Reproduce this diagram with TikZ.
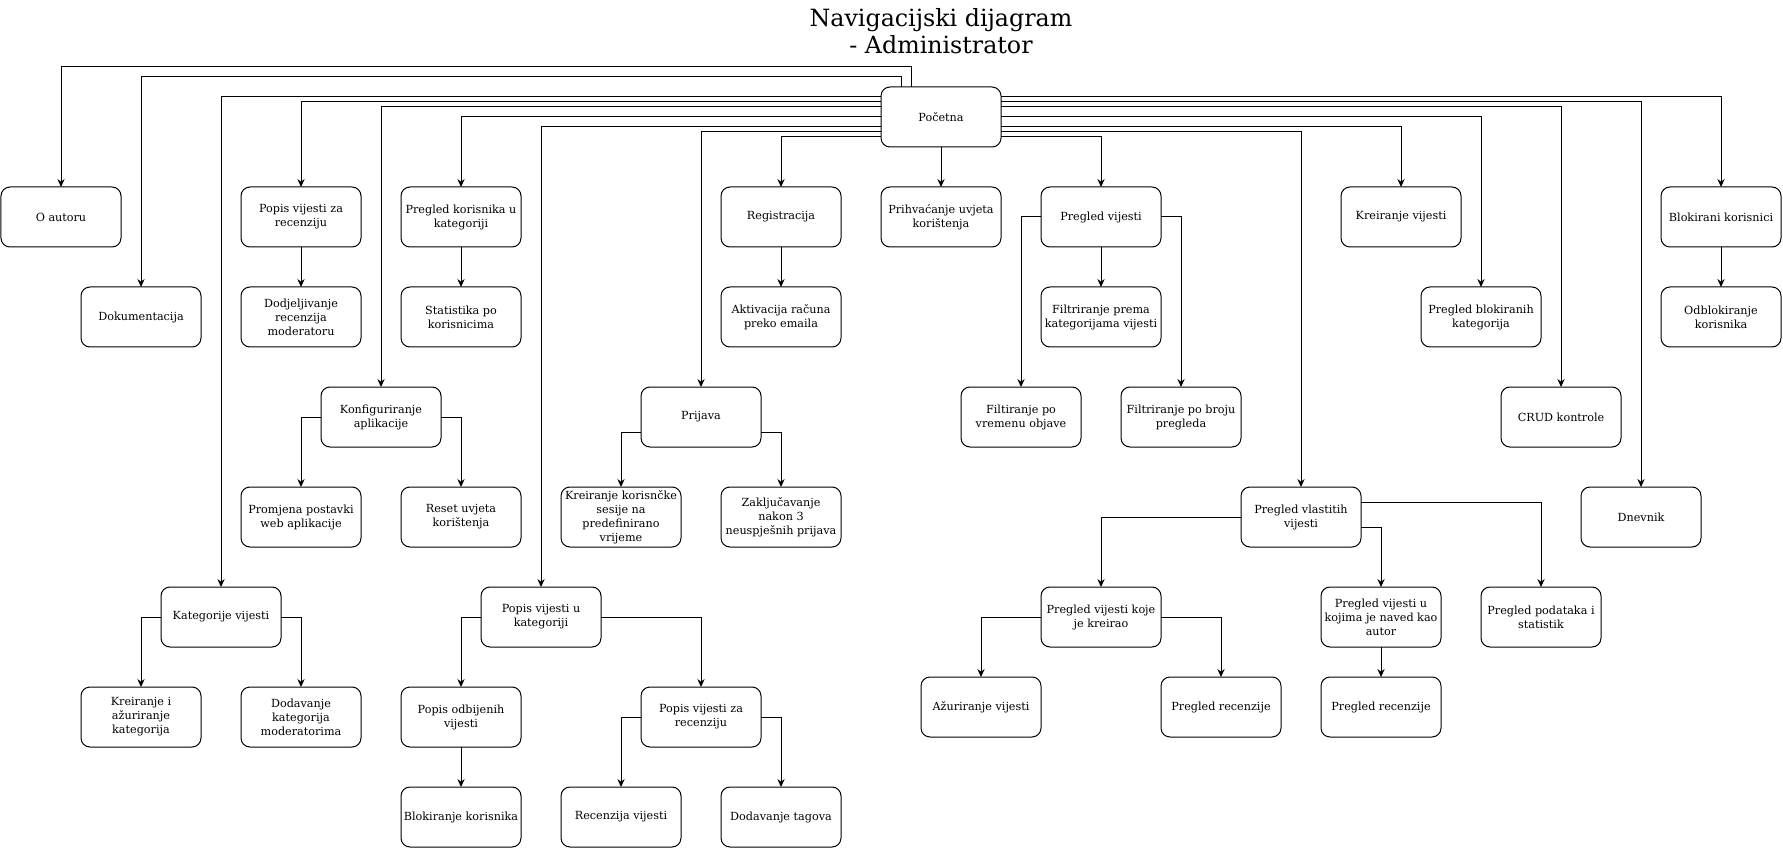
\documentclass[tikz,border=0pt]{standalone}
\usepackage{fontspec}
\setmainfont{DejaVu Serif}
\usepackage{tikz}
\usetikzlibrary{positioning,calc,arrows.meta}

\begin{document}
\begin{tikzpicture}[
	x=0.75pt, y=-0.75pt,
	box/.style={
		draw, rectangle, rounded corners=6.75pt, align=center,
		minimum width=90pt, minimum height=45pt, inner sep=1pt, outer sep=0pt,
		line width=0.75pt, font=\fontsize{8.4}{10.5}\selectfont
	},
	naslov/.style={align=center, font=\fontsize{17.8}{20.5}\selectfont},
	arr/.style={-{Stealth[length=6pt,width=5.5pt,inset=2pt]}, line width=0.75pt}
	]
	\useasboundingbox (-1,-1) rectangle (1782,847);
	
	%==================== Naslov ====================
	\node[naslov] (naslov) at (940,30) {Navigacijski dijagram\\- Administrator};
	
	%==================== Početna ====================
	\node[box] (pocetna) at (940,116) {Početna};
	
	%==================== Prvi red ====================
	\node[box] (oautoru) at (60,216) {O autoru};
	\node[box] (popisrec) at (300,216) {Popis vijesti za\\recenziju};
	\node[box] (pregkor) at (460,216) {Pregled korisnika u\\kategoriji};
	\node[box] (registracija) at (780,216) {Registracija};
	\node[box, below=30pt of pocetna] (prihvacanje) {Prihvaćanje uvjeta\\korištenja};
	\node[box] (pregvijesti) at (1100,216) {Pregled vijesti};
	\node[box] (kreirvijesti) at (1400,216) {Kreiranje vijesti};
	\node[box] (blokirani) at (1720,216) {Blokirani korisnici};
	
	%==================== Drugi red ====================
	\node[box] (dokumentacija) at (140,316) {Dokumentacija};
	\node[box, below=30pt of popisrec] (dodjela) {Dodjeljivanje\\recenzija\\moderatoru};
	\node[box, below=30pt of pregkor] (statistika) {Statistika po\\korisnicima};
	\node[box, below=30pt of registracija] (aktivacija) {Aktivacija računa\\preko emaila};
	\node[box, below=30pt of pregvijesti] (filtkat) {Filtriranje prema\\kategorijama vijesti};
	\node[box] (pregblokkat) at (1480,316) {Pregled blokiranih\\kategorija};
	\node[box, below=30pt of blokirani] (odblok) {Odblokiranje\\korisnika};
	
	%==================== Treći red ====================
	\node[box] (konfig) at (380,416) {Konfiguriranje\\aplikacije};
	\node[box] (prijava) at (700,416) {Prijava};
	\node[box] (filtvrijeme) at (1020,416) {Filtiranje po\\vremenu objave};
	\node[box] (filtbroj) at (1180,416) {Filtriranje po broju\\pregleda};
	\node[box] (crud) at (1560,416) {CRUD kontrole};
	
	%==================== Četvrti red ====================
	\node[box] (promjena) at (300,516) {Promjena postavki\\web aplikacije};
	\node[box] (reset) at (460,516) {Reset uvjeta\\korištenja};
	\node[box] (sesija) at (620,516) {Kreiranje korisnčke\\sesije na\\predefinirano\\vrijeme};
	\node[box] (zakljucavanje) at (780,516) {Zaključavanje\\nakon 3\\neuspješnih prijava};
	\node[box] (vlastite) at (1300,516) {Pregled vlastitih\\vijesti};
	\node[box] (dnevnik) at (1640,516) {Dnevnik};
	
	%==================== Peti red ====================
	\node[box] (katvijesti) at (220,616) {Kategorije vijesti};
	\node[box] (popiskat) at (540,616) {Popis vijesti u\\kategoriji};
	\node[box] (vijkreirao) at (1100,616) {Pregled vijesti koje\\je kreirao};
	\node[box] (autorvij) at (1380,616) {Pregled vijesti u\\kojima je naved kao\\autor};
	\node[box] (podaci) at (1540,616) {Pregled podataka i\\statistik};
	
	%==================== Šesti red ====================
	\node[box] (kreirkat) at (140,716) {Kreiranje i\\ažuriranje\\kategorija};
	\node[box] (dodkat) at (300,716) {Dodavanje\\kategorija\\moderatorima};
	\node[box] (odbijene) at (460,716) {Popis odbijenih\\vijesti};
	\node[box] (popisrec2) at (700,716) {Popis vijesti za\\recenziju};
	\node[box] (azuriranje) at (980,706) {Ažuriranje vijesti};
	\node[box] (recenzija1) at (1220,706) {Pregled recenzije};
	\node[box] (recenzija2) at (1380,706) {Pregled recenzije};
	
	%==================== Sedmi red ====================
	\node[box, below=30pt of odbijene] (blokiranje) {Blokiranje korisnika};
	\node[box] (recenzija) at (620,816) {Recenzija vijesti};
	\node[box] (tagovi) at (780,816) {Dodavanje tagova};
	
	%==================== Veze iz Početne ====================
	\draw[arr] ($(pocetna.north)+(-30,0)$) -- ++(0,-20) -| (oautoru);
	\draw[arr] ($(pocetna.north)+(-40,0)$) -- ++(0,-10) -| (dokumentacija);
	\draw[arr] ($(pocetna.west)+(0,-20)$) -| (katvijesti);
	\draw[arr] ($(pocetna.west)+(0,-15)$) -| (popisrec);
	\draw[arr] ($(pocetna.west)+(0,-10)$) -| (konfig);
	\draw[arr] (pocetna.west) -| (pregkor);
	\draw[arr] ($(pocetna.west)+(0,10)$) -| (popiskat);
	\draw[arr] ($(pocetna.west)+(0,15)$) -| (prijava);
	\draw[arr] ($(pocetna.west)+(0,20)$) -| (registracija);
	\draw[arr] (pocetna) -- (prihvacanje);
	\draw[arr] ($(pocetna.east)+(0,-20)$) -| (blokirani);
	\draw[arr] ($(pocetna.east)+(0,-15)$) -| (dnevnik);
	\draw[arr] ($(pocetna.east)+(0,-10)$) -| (crud);
	\draw[arr] (pocetna.east) -| (pregblokkat);
	\draw[arr] ($(pocetna.east)+(0,10)$) -| (kreirvijesti);
	\draw[arr] ($(pocetna.east)+(0,15)$) -| (vlastite);
	\draw[arr] ($(pocetna.east)+(0,20)$) -| (pregvijesti);
	
	%==================== Ostale veze ====================
	\draw[arr] (popisrec) -- (dodjela);
	\draw[arr] (pregkor) -- (statistika);
	\draw[arr] (registracija) -- (aktivacija);
	\draw[arr] (blokirani) -- (odblok);
	\draw[arr] (konfig.west) -| (promjena);
	\draw[arr] (konfig.east) -| (reset);
	\draw[arr] ($(prijava.west)+(0,15)$) -| (sesija);
	\draw[arr] ($(prijava.east)+(0,15)$) -| (zakljucavanje);
	\draw[arr] (pregvijesti) -- (filtkat);
	\draw[arr] (pregvijesti.west) -| (filtvrijeme);
	\draw[arr] (pregvijesti.east) -| (filtbroj);
	\draw[arr] (katvijesti.west) -| (kreirkat);
	\draw[arr] (katvijesti.east) -| (dodkat);
	\draw[arr] (popiskat.west) -| (odbijene);
	\draw[arr] (popiskat.east) -| (popisrec2);
	\draw[arr] (odbijene) -- (blokiranje);
	\draw[arr] (popisrec2.west) -| (recenzija);
	\draw[arr] (popisrec2.east) -| (tagovi);
	\draw[arr] (vlastite.west) -| (vijkreirao);
	\draw[arr] ($(vlastite.east)+(0,-15)$) -| (podaci);
	\draw[arr] ($(vlastite.east)+(0,10)$) -| (autorvij);
	\draw[arr] (vijkreirao.west) -| (azuriranje);
	\draw[arr] (vijkreirao.east) -| (recenzija1);
	\draw[arr] (autorvij) -- (recenzija2);
	
\end{tikzpicture}
\end{document}
